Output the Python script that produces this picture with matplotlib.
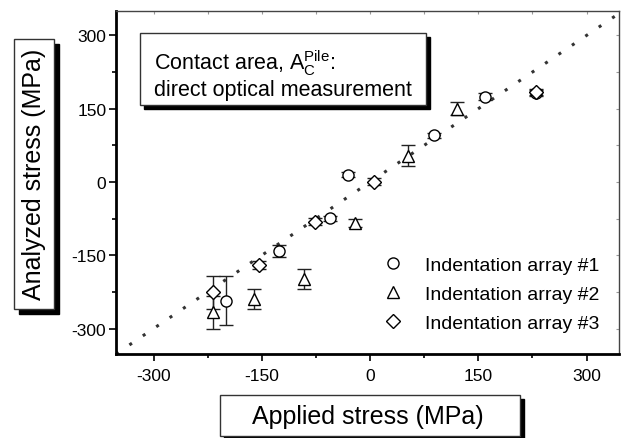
import numpy as np
import matplotlib
matplotlib.use("Agg")
import matplotlib.pyplot as plt
from matplotlib.patches import Rectangle

plt.rcParams['font.family'] = ['Liberation Sans', 'DejaVu Sans']
plt.rcParams['mathtext.fontset'] = 'custom'
plt.rcParams['mathtext.rm'] = 'Liberation Sans'
plt.rcParams['mathtext.it'] = 'Liberation Sans'
plt.rcParams['axes.unicode_minus'] = False

# data (MPa)
x1 = [-200, -126, -56, -30, 88, 159, 230]
y1 = [-243, -141, -74, 15, 96, 175, 182]
e1 = [50, 13, 5, 5, 5, 8, 6]

x2 = [-217, -161, -92, -21, 52, 121]
y2 = [-267, -239, -198, -84, 54, 150]
e2 = [34, 20, 20, 8, 22, 13]

x3 = [-218, -154, -76, 6, 230]
y3 = [-226, -170, -81, 1, 184]
e3 = [34, 8, 8, 8, 6]

labels = ["Indentation array #1", "Indentation array #2", "Indentation array #3"]
ticks = [-300, -150, 0, 150, 300]
minor = [-225, -75, 75, 225]


def main():
    W, H = 627, 439
    fig = plt.figure(figsize=(W / 100, H / 100), dpi=100)
    ax = fig.add_axes([116 / W, 1 - 355 / H, 503 / W, 343 / H])

    # reference line y = x
    ref = np.array([-352, 340])
    ax.plot(ref, ref, ls=(0, (1, 4.3)), lw=2.2, color="#333333", zorder=1)

    style = dict(ls="none", mfc="white", mec="black", ecolor="#222222",
                 elinewidth=1, capsize=5, capthick=1, mew=1, zorder=3)
    h1 = ax.errorbar(x1, y1, yerr=e1, marker="o", ms=8, **style)
    h2 = ax.errorbar(x2, y2, yerr=e2, marker="^", ms=9, **style)
    h3 = ax.errorbar(x3, y3, yerr=e3, marker="D", ms=7, **style)

    ax.set_xlim(-352, 345)
    ax.set_ylim(-352, 350)
    ax.set_xticks(ticks)
    ax.set_yticks(ticks)
    ax.set_xticks(minor, minor=True)
    ax.set_yticks(minor, minor=True)
    ax.tick_params(axis="both", which="both", direction="out", labelsize=12.5,
                   top=False, right=False, width=1.2)
    ax.tick_params(which="major", length=5)
    ax.tick_params(which="minor", length=3)
    ax.tick_params(axis="x", pad=5)
    ax.tick_params(axis="y", pad=2)

    # faint inward ticks on top and right
    sec = ax.secondary_xaxis("top")
    sec.set_xticks(ticks + minor)
    sec.tick_params(direction="in", length=2, color="#999999", labeltop=False)
    sec.spines["top"].set_visible(False)
    secy = ax.secondary_yaxis("right")
    secy.set_yticks(ticks + minor)
    secy.tick_params(direction="in", length=2, color="#999999", labelright=False)
    secy.spines["right"].set_visible(False)

    for s in ["left", "bottom"]:
        ax.spines[s].set_linewidth(2)
    for s in ["top", "right"]:
        ax.spines[s].set_linewidth(1)
        ax.spines[s].set_color("#444444")

    ax.legend([h1[0], h2[0], h3[0]], labels, loc="center left",
              bbox_to_anchor=(383.5 / W, 1 - 295 / H),
              bbox_transform=fig.transFigure, borderaxespad=0, borderpad=0,
              frameon=False, fontsize=14, handlelength=1.0,
              handletextpad=1.15, labelspacing=0.6)

    # text box with drop shadow (pixel coordinates converted to figure)
    def box(x0, y0, x1_, y1_, off=5):
        fig.patches.append(Rectangle(((x0 + off) / W, 1 - (y1_ + off) / H),
                                     (x1_ - x0) / W, (y1_ - y0) / H,
                                     transform=fig.transFigure,
                                     fc="black", ec="black", zorder=5))
        fig.patches.append(Rectangle((x0 / W, 1 - y1_ / H),
                                     (x1_ - x0) / W, (y1_ - y0) / H,
                                     transform=fig.transFigure,
                                     fc="white", ec="#333333", lw=1, zorder=6))

    box(140, 34, 426, 106, off=4)
    fig.text(154 / W, 1 - 70 / H, r"Contact area, A$_\mathrm{C}^\mathrm{Pile}$:",
             fontsize=15.5, ha="left", va="baseline", zorder=7)
    fig.text(154 / W, 1 - 96 / H, "direct optical measurement",
             fontsize=15.5, ha="left", va="baseline", zorder=7)

    box(14, 40, 54, 310, off=5)
    fig.text(34 / W, 1 - 174 / H, "Analyzed stress (MPa)", rotation=90,
             fontsize=18, ha="center", va="center", zorder=7)

    box(220, 396, 520, 437, off=4)
    fig.text(368 / W, 1 - 417 / H, "Applied stress (MPa)",
             fontsize=18, ha="center", va="center", zorder=7)

    fig.savefig("out.png", dpi=100)


if __name__ == "__main__":
    main()
